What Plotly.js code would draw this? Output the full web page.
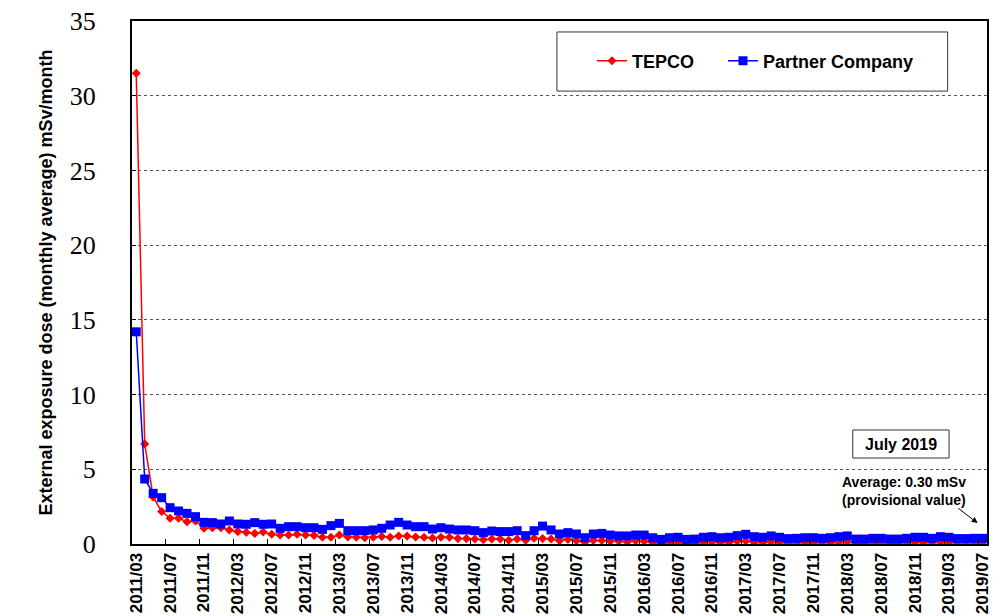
<!DOCTYPE html>
<html>
<head>
<meta charset="utf-8">
<script src="https://cdn.plot.ly/plotly-3.0.1.min.js"></script>
<style>
html,body{margin:0;padding:0;background:#fff;}
#chart{width:995px;height:616px;}
</style>
</head>
<body>
<div id="chart"></div>
<script>
// Months 2011/03 .. 2019/07
const categories = [];
(function(){
  let y = 2011, m = 3;
  while (y < 2019 || (y === 2019 && m <= 7)) {
    categories.push(y + '/' + (m < 10 ? '0' + m : m));
    m++; if (m > 12) { m = 1; y++; }
  }
})();

const tickLabels = ['2011/03','2011/07','2011/11','2012/03','2012/07','2012/11','2013/03','2013/07','2013/11',
  '2014/03','2014/07','2014/11','2015/03','2015/07','2015/11','2016/03','2016/07','2016/11',
  '2017/03','2017/07','2017/11','2018/03','2018/07','2018/11','2019/03','2019/07'];

const tepco = [31.5, 6.7, 3.15, 2.17, 1.72, 1.72, 1.49, 1.54, 1.05, 1.09,
  1.09, 0.94, 0.83, 0.78, 0.71, 0.80, 0.65, 0.60, 0.60, 0.65,
  0.60, 0.58, 0.45, 0.45, 0.60, 0.47, 0.45, 0.42, 0.45, 0.51,
  0.45, 0.54, 0.53, 0.47, 0.45, 0.40, 0.45, 0.45, 0.36, 0.36,
  0.33, 0.29, 0.33, 0.33, 0.25, 0.33, 0.25, 0.38, 0.36, 0.33,
  0.22, 0.31, 0.22, 0.12, 0.24, 0.24, 0.19, 0.19, 0.14, 0.21,
  0.18, 0.10, 0.10, 0.10, 0.10, 0.10, 0.10, 0.10, 0.14, 0.10,
  0.10, 0.18, 0.20, 0.10, 0.10, 0.15, 0.10, 0.08, 0.08, 0.10,
  0.08, 0.10, 0.08, 0.10, 0.14, 0.08, 0.08, 0.08, 0.08, 0.08,
  0.10, 0.10, 0.12, 0.10, 0.10, 0.13, 0.10, 0.08, 0.08, 0.08,
  0.10];

const partner = [14.2, 4.35, 3.39, 3.10, 2.43, 2.21, 2.05, 1.83, 1.45, 1.43,
  1.34, 1.54, 1.34, 1.32, 1.43, 1.32, 1.34, 1.05, 1.16, 1.16,
  1.09, 1.09, 0.98, 1.23, 1.38, 0.89, 0.89, 0.89, 0.94, 1.05,
  1.27, 1.45, 1.27, 1.16, 1.16, 1.00, 1.09, 1.00, 0.94, 0.94,
  0.89, 0.76, 0.87, 0.83, 0.83, 0.89, 0.56, 0.89, 1.20, 0.94,
  0.67, 0.76, 0.67, 0.42, 0.67, 0.71, 0.60, 0.54, 0.54, 0.60,
  0.60, 0.42, 0.31, 0.42, 0.45, 0.31, 0.33, 0.45, 0.49, 0.42,
  0.45, 0.56, 0.65, 0.49, 0.45, 0.54, 0.45, 0.36, 0.38, 0.42,
  0.42, 0.38, 0.42, 0.49, 0.54, 0.33, 0.33, 0.38, 0.38, 0.33,
  0.33, 0.38, 0.45, 0.45, 0.38, 0.49, 0.45, 0.36, 0.36, 0.38,
  0.38];

const seriesNames = ['TEPCO', 'Partner Company'];

const traces = [
  {
    x: categories, y: tepco, name: seriesNames[0], type: 'scatter', mode: 'lines+markers',
    line: {color: '#FF0000', width: 1.5},
    marker: {symbol: 'diamond', size: 7, color: '#FF0000'},
    legendwidth: 86
  },
  {
    x: categories, y: partner, name: seriesNames[1], type: 'scatter', mode: 'lines+markers',
    line: {color: '#0000FF', width: 1.5},
    marker: {symbol: 'square', size: 9, color: '#0000FF'}
  }
];

const sans = 'Liberation Sans, Arial, sans-serif';

const layout = {
  width: 995, height: 616,
  margin: {l: 132, r: 8, t: 21, b: 72},
  paper_bgcolor: '#fff', plot_bgcolor: '#fff',
  showlegend: true,
  legend: {
    orientation: 'h', x: 0.538, y: 0.9235, xanchor: 'left', yanchor: 'middle',
    font: {family: sans, size: 18, color: '#000', weight: 'bold'},
    bgcolor: 'rgba(0,0,0,0)', borderwidth: 0
  },
  xaxis: {
    type: 'category',
    range: [-0.5, categories.length - 0.5],
    tickmode: 'array', tickvals: tickLabels, ticktext: tickLabels,
    tickson: 'boundaries',
    ticks: 'inside', ticklen: 5, tickcolor: '#000', tickwidth: 1,
    tickangle: -90,
    tickfont: {family: sans, size: 17, color: '#000', weight: 'bold'},
    showgrid: false, zeroline: false,
    showline: true, linecolor: '#000', linewidth: 2, mirror: true
  },
  yaxis: {
    range: [0, 35], tickmode: 'linear', tick0: 0, dtick: 5,
    ticks: 'inside', ticklen: 4, tickcolor: '#000',
    ticklabelstandoff: 29,
    tickfont: {family: 'Liberation Serif, Times New Roman, serif', size: 26, color: '#000'},
    showgrid: true, gridcolor: '#555', griddash: 'dot', gridwidth: 1,
    zeroline: false,
    showline: true, linecolor: '#000', linewidth: 2, mirror: true,
    title: {text: 'External exposure dose (monthly average) mSv/month',
      font: {family: sans, size: 18, color: '#000', weight: 'bold'}, standoff: 12}
  },
  shapes: [
    {type: 'rect', xref: 'paper', yref: 'paper', x0: 0.497, x1: 0.954, y0: 0.866, y1: 0.979,
     line: {color: '#333', width: 1}, fillcolor: 'rgba(0,0,0,0)'},
    {type: 'rect', xref: 'paper', yref: 'paper', x0: 0.843, x1: 0.9556, y0: 0.1644, y1: 0.218,
     line: {color: '#333', width: 1}, fillcolor: 'rgba(0,0,0,0)'}
  ],
  annotations: [
    {xref: 'paper', yref: 'paper', x: 0.8995, y: 0.191, text: 'July 2019', showarrow: false,
     xanchor: 'center', yanchor: 'middle',
     font: {family: sans, size: 16, color: '#000', weight: 'bold'}},
    {xref: 'paper', yref: 'paper', x: 0.828, y: 0.1006, text: 'Average: 0.30 mSv<br>(provisional value)',
     showarrow: false, xanchor: 'left', yanchor: 'middle', align: 'left',
     font: {family: sans, size: 14, color: '#000', weight: 'bold'}},
    {xref: 'x', yref: 'y', x: 99.4, y: 1.4, text: '', showarrow: true,
     axref: 'pixel', ayref: 'pixel', ax: -21, ay: -16,
     arrowhead: 2, arrowsize: 1.2, arrowwidth: 1, arrowcolor: '#000'}
  ]
};

Plotly.newPlot('chart', traces, layout, {displayModeBar: false, staticPlot: true});
</script>
</body>
</html>
